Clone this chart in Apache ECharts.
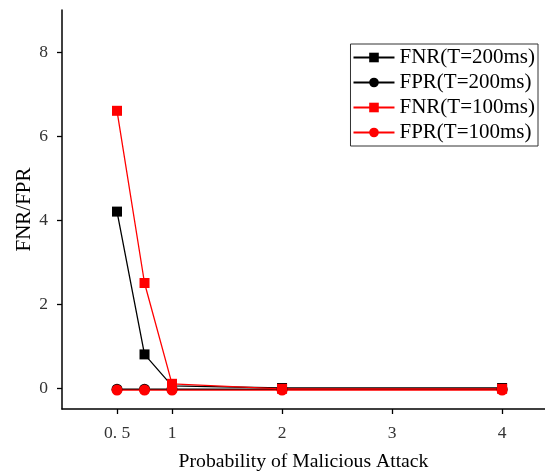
<!DOCTYPE html>
<html>
<head>
<meta charset="utf-8">
<script src="https://cdn.jsdelivr.net/npm/echarts@6/dist/echarts.min.js"></script>
<style>
  html, body { margin: 0; padding: 0; background: #fff; }
  #chart { width: 545px; height: 473px; }
</style>
</head>
<body>
<div id="chart"></div>
<script>
// values
var probs = [0.5, 0.75, 1, 2, 4];
var fnr200 = [4.2, 0.8, 0.05, 0, 0];
var fpr200 = [-0.03, -0.03, -0.03, -0.03, -0.03];
var fnr100 = [6.6, 2.5, 0.1, -0.02, -0.02];
var fpr100 = [-0.05, -0.05, -0.05, -0.05, -0.05];
var xTicks = [0.5, 1, 2, 3, 4];
var yTicks = [0, 2, 4, 6, 8];

function pairs(ys) {
  return probs.map(function (x, i) { return [x, ys[i]]; });
}

var serif = 'Liberation Serif';
var chart = echarts.init(document.getElementById('chart'));

function mk(name, ys, color, symbol, size) {
  return {
    name: name,
    type: 'line',
    data: pairs(ys),
    symbol: symbol,
    symbolSize: size,
    showSymbol: true,
    color: color,
    lineStyle: { color: color, width: 1.3 },
    itemStyle: { color: color },
    emphasis: { disabled: true }
  };
}

chart.setOption({
  animation: false,
  grid: { left: 62, top: 10, right: 0, bottom: 64, outerBoundsMode: 'none' },
  legend: {
    orient: 'vertical',
    right: 7,
    top: 44,
    padding: [3, 3, 3, 2],
    itemGap: 4,
    itemWidth: 41,
    itemHeight: 12,
    borderColor: '#333',
    borderWidth: 1,
    textStyle: { fontFamily: serif, fontSize: 21, color: '#000' },
    data: ['FNR(T=200ms)', 'FPR(T=200ms)', 'FNR(T=100ms)', 'FPR(T=100ms)']
  },
  xAxis: {
    type: 'value',
    min: 0,
    max: 4.39,
    name: 'Probability of Malicious Attack',
    nameLocation: 'middle',
    nameGap: 43,
    nameTextStyle: { fontFamily: serif, fontSize: 19.7, color: '#000' },
    axisLine: { show: true, onZero: false, lineStyle: { color: '#000', width: 1.5 } },
    axisTick: { show: true, customValues: xTicks, length: 5, lineStyle: { color: '#000', width: 1.3 } },
    axisLabel: {
      customValues: xTicks,
      margin: 15,
      fontFamily: serif,
      fontSize: 17.5,
      color: '#333',
      formatter: function (v) { return v === 0.5 ? '0. 5' : String(v); }
    },
    splitLine: { show: false }
  },
  yAxis: {
    type: 'value',
    min: -0.5,
    max: 9,
    name: 'FNR/FPR',
    nameLocation: 'middle',
    nameGap: 27,
    nameMoveOverlap: false,
    nameTextStyle: { fontFamily: serif, fontSize: 21, color: '#000' },
    axisLine: { show: true, onZero: false, lineStyle: { color: '#000', width: 1.5 } },
    axisTick: { show: true, customValues: yTicks, length: 5, lineStyle: { color: '#000', width: 1.3 } },
    axisLabel: {
      customValues: yTicks,
      margin: 14,
      fontFamily: serif,
      fontSize: 17.5,
      color: '#333'
    },
    splitLine: { show: false }
  },
  series: [
    mk('FNR(T=200ms)', fnr200, '#000000', 'rect', 10),
    mk('FPR(T=200ms)', fpr200, '#000000', 'circle', 11),
    mk('FNR(T=100ms)', fnr100, '#ff0000', 'rect', 10),
    mk('FPR(T=100ms)', fpr100, '#ff0000', 'circle', 11)
  ]
});
</script>
</body>
</html>
